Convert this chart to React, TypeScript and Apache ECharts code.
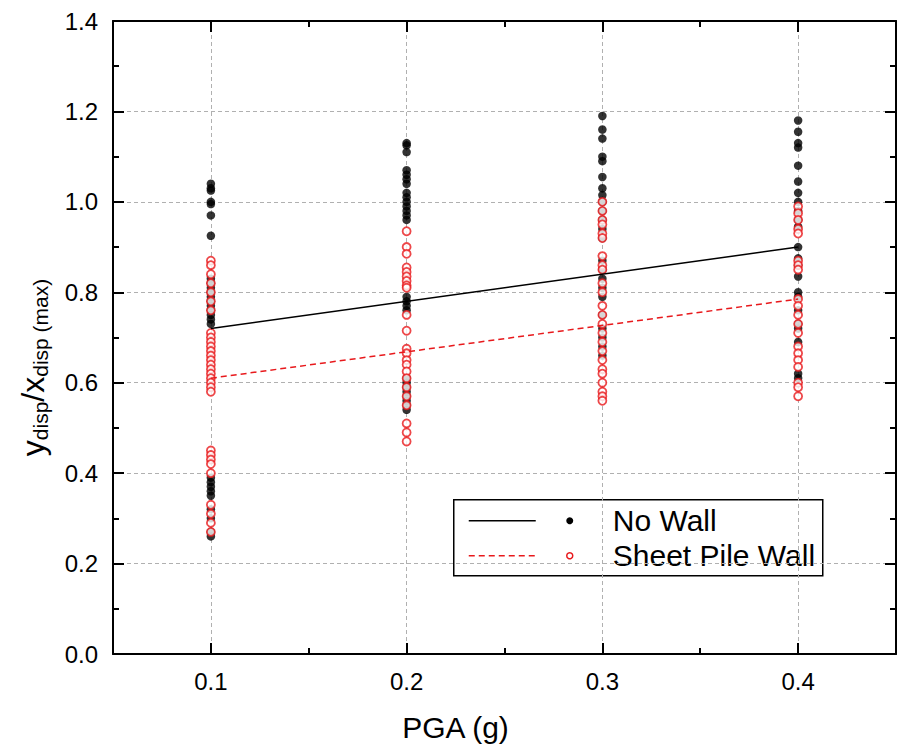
import React, { useEffect, useRef } from "react";
import * as echarts from "echarts";

// ---- data ----
const pgaLevels = [0.1, 0.2, 0.3, 0.4];

const noWall01 = [1.04, 1.03, 1.025, 1.0, 0.995, 0.97, 0.925, 0.83, 0.82, 0.81, 0.8, 0.79, 0.78, 0.77, 0.76, 0.75, 0.74, 0.73, 0.39, 0.38, 0.37, 0.36, 0.35, 0.32, 0.3, 0.27, 0.26];
const noWall02 = [1.13, 1.125, 1.11, 1.07, 1.06, 1.05, 1.04, 1.02, 1.01, 1.0, 0.99, 0.98, 0.97, 0.96, 0.79, 0.78, 0.77, 0.76, 0.61, 0.6, 0.59, 0.58, 0.57, 0.56, 0.55, 0.54];
const noWall03 = [1.19, 1.16, 1.14, 1.1, 1.09, 1.055, 1.03, 1.015, 1.0, 0.98, 0.96, 0.94, 0.92, 0.87, 0.85, 0.83, 0.81, 0.79, 0.75, 0.72, 0.7, 0.68, 0.66];
const noWall04 = [1.18, 1.155, 1.13, 1.12, 1.08, 1.045, 1.02, 1.0, 0.98, 0.96, 0.945, 0.9, 0.875, 0.86, 0.835, 0.8, 0.79, 0.76, 0.73, 0.72, 0.69, 0.62, 0.61];

const sheet01 = [0.87, 0.86, 0.84, 0.82, 0.8, 0.78, 0.76, 0.71, 0.7, 0.69, 0.68, 0.67, 0.66, 0.65, 0.64, 0.63, 0.62, 0.61, 0.6, 0.59, 0.58, 0.45, 0.44, 0.43, 0.42, 0.4, 0.33, 0.31, 0.29, 0.27];
const sheet02 = [0.935, 0.9, 0.885, 0.855, 0.845, 0.835, 0.825, 0.815, 0.81, 0.75, 0.715, 0.675, 0.665, 0.65, 0.64, 0.625, 0.61, 0.59, 0.57, 0.55, 0.51, 0.49, 0.47];
const sheet03 = [1.0, 0.98, 0.96, 0.95, 0.93, 0.92, 0.88, 0.86, 0.85, 0.82, 0.8, 0.77, 0.75, 0.73, 0.71, 0.69, 0.67, 0.65, 0.63, 0.62, 0.6, 0.58, 0.57, 0.56];
const sheet04 = [0.99, 0.975, 0.96, 0.94, 0.93, 0.87, 0.86, 0.85, 0.785, 0.77, 0.75, 0.73, 0.71, 0.68, 0.665, 0.65, 0.635, 0.6, 0.59, 0.57];

const fitX = [0.1, 0.4];
const noWallFit = [0.72, 0.9];
const sheetFit = [0.61, 0.785];

const xTicks = ["0.1", "0.2", "0.3", "0.4"];
const legendNames = ["No Wall", "Sheet Pile Wall"];

const FONT = "'Liberation Sans', Arial, sans-serif";

function pairs(levels: number[], groups: number[][]) {
  const out: number[][] = [];
  groups.forEach((g, i) => g.forEach((v) => out.push([levels[i], v])));
  return out;
}

export default function App() {
  const ref = useRef<HTMLDivElement>(null);
  useEffect(() => {
    if (!ref.current) return;
    const chart = echarts.init(ref.current, undefined, { renderer: "svg" });
    const noWallPts = pairs(pgaLevels, [noWall01, noWall02, noWall03, noWall04]);
    const sheetPts = pairs(pgaLevels, [sheet01, sheet02, sheet03, sheet04]);

    const axisLine = { show: true, lineStyle: { color: "#000", width: 2 } };
    const majorTick = { show: true, inside: true, length: 11, lineStyle: { color: "#000", width: 2 } };
    const minorTickStyle = { show: true, inside: true, length: 6, lineStyle: { color: "#000", width: 2 } };
    const grid = { left: 113, right: 2, top: 21, bottom: 101 };

    chart.setOption({
      animation: false,
      backgroundColor: "#fff",
      grid,
      xAxis: [
        {
          type: "value", position: "bottom", min: 0.05, max: 0.45, splitNumber: 4,
          axisLine, axisTick: majorTick,
          axisLabel: {
            show: true, showMinLabel: false, showMaxLabel: false, margin: 15,
            fontSize: 24, color: "#000", fontFamily: FONT,
            formatter: (v: number) => { const s = v.toFixed(1); return xTicks.includes(s) && Math.abs(v * 10 - Math.round(v * 10)) < 1e-6 ? s : ""; },
          },
          splitLine: { show: true, lineStyle: { color: "#b0b0b0", width: 1, type: [4, 3] } },
          name: "PGA (g)", nameLocation: "middle", nameGap: 58,
          nameTextStyle: { fontSize: 30, color: "#000", fontFamily: FONT, padding: [0, 98, 0, 0] },
        },
        {
          type: "value", position: "bottom", min: 0.05, max: 0.45, interval: 0.05,
          axisLine: { show: false }, axisTick: minorTickStyle,
          axisLabel: { show: false }, splitLine: { show: false },
        },
        {
          type: "value", position: "top", min: 0.05, max: 0.45, splitNumber: 4,
          axisLine, axisTick: majorTick,
          axisLabel: { show: false }, splitLine: { show: false },
        },
        {
          type: "value", position: "top", min: 0.05, max: 0.45, interval: 0.05,
          axisLine: { show: false }, axisTick: minorTickStyle,
          axisLabel: { show: false }, splitLine: { show: false },
        },
      ],
      yAxis: [
        {
          type: "value", position: "left", min: 0, max: 1.4, interval: 0.2,
          axisLine, axisTick: majorTick,
          minorTick: { show: true, splitNumber: 2, length: 6, lineStyle: { color: "#000", width: 2 } },
          axisLabel: { margin: 15, fontSize: 24, color: "#000", fontFamily: FONT, formatter: (v: number) => v.toFixed(1) },
          splitLine: { show: true, lineStyle: { color: "#b0b0b0", width: 1, type: [4, 3] } },
          name: "{m|y}{s|disp}{m|/x}{s|disp (max)}", nameLocation: "middle", nameGap: 62, nameRotate: 90,
          nameTextStyle: {
            color: "#000", fontFamily: FONT, padding: [0, 60, 0, 0],
            rich: {
              m: { fontSize: 32, fontFamily: FONT, color: "#000", lineHeight: 36 },
              s: { fontSize: 21, fontFamily: FONT, color: "#000", verticalAlign: "bottom", lineHeight: 21, padding: [12, 0, 0, 0] },
            },
          },
        },
        {
          type: "value", position: "right", min: 0, max: 1.4, interval: 0.2,
          axisLine, axisTick: majorTick,
          minorTick: { show: true, splitNumber: 2, length: 6, lineStyle: { color: "#000", width: 2 } },
          axisLabel: { show: false }, splitLine: { show: false },
        },
      ],
      series: [
        {
          name: legendNames[0], type: "scatter", data: noWallPts, symbol: "circle", symbolSize: 8.5,
          itemStyle: { color: "#000" }, z: 2,
        },
        {
          name: legendNames[1], type: "scatter", data: sheetPts, symbol: "circle", symbolSize: 8,
          itemStyle: { color: "#fff", borderColor: "#e8191c", borderWidth: 1.8 }, z: 3,
        },
        {
          name: legendNames[0] + " fit", type: "line", data: fitX.map((x, i) => [x, noWallFit[i]]),
          symbol: "none", lineStyle: { color: "#000", width: 1.5 }, z: 4,
        },
        {
          name: legendNames[1] + " fit", type: "line", data: fitX.map((x, i) => [x, sheetFit[i]]),
          symbol: "none", lineStyle: { color: "#e8191c", width: 1.5, type: [6, 4] }, z: 4,
        },
      ],
      graphic: [
        {
          type: "group", left: 453, top: 499, z: 100,
          children: [
            { type: "rect", shape: { x: 0, y: 0, width: 369, height: 76 }, style: { fill: "#fff", stroke: "#000", lineWidth: 1.5 } },
            { type: "line", shape: { x1: 15, y1: 21, x2: 82, y2: 21 }, style: { stroke: "#000", lineWidth: 1.5 } },
            { type: "circle", shape: { cx: 116, cy: 21, r: 3.5 }, style: { fill: "#000" } },
            { type: "text", x: 159, y: 21, style: { text: legendNames[0], fontSize: 30, fontFamily: FONT, fill: "#000", verticalAlign: "middle" } },
            { type: "line", shape: { x1: 15, y1: 56, x2: 82, y2: 56 }, style: { stroke: "#e8191c", lineWidth: 1.5, lineDash: [6, 4] } },
            { type: "circle", shape: { cx: 116, cy: 56, r: 3 }, style: { fill: "#fff", stroke: "#e8191c", lineWidth: 1.5 } },
            { type: "text", x: 159, y: 56, style: { text: legendNames[1], fontSize: 30, fontFamily: FONT, fill: "#000", verticalAlign: "middle" } },
          ],
        },
      ],
    });
    return () => chart.dispose();
  }, []);
  return <div ref={ref} style={{ position: "fixed", left: 0, top: 0, width: 898, height: 755 }} />;
}
